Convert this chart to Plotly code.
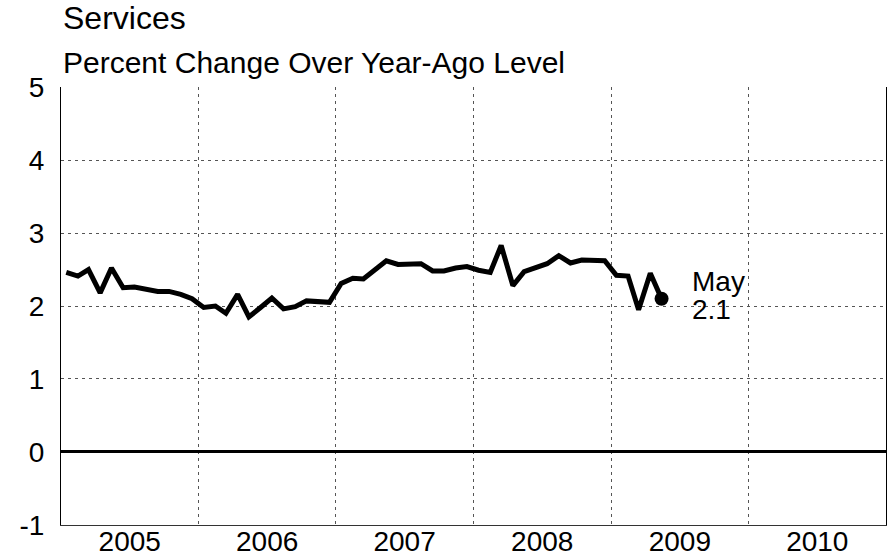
import pandas as pd
import plotly.graph_objects as go

# Services, percent change over year-ago level, monthly Jan 2005 - May 2009
start_month = "2005-01-01"
values = [
    2.46, 2.41, 2.50, 2.18, 2.52, 2.25, 2.26, 2.23, 2.20, 2.20, 2.16, 2.10,   # 2005
    1.98, 2.00, 1.90, 2.16, 1.85, 1.98, 2.11, 1.96, 1.99, 2.07, 2.06, 2.05,   # 2006
    2.31, 2.38, 2.37, 2.50, 2.62, 2.57, 2.58, 2.58, 2.48, 2.48, 2.52, 2.54,   # 2007
    2.49, 2.46, 2.83, 2.28, 2.47, 2.52, 2.58, 2.69, 2.59, 2.63, 2.63, 2.62,   # 2008
    2.42, 2.41, 1.95, 2.45, 2.10,                                             # 2009
]
last_label = "May"
last_value_text = "2.1"
title = "Services"
subtitle = "Percent Change Over Year-Ago Level"
y_ticks = [-1, 0, 1, 2, 3, 4, 5]
y_tick_text = ["-1", "0", "1", "2", "3", "4", "5"]

months = pd.date_range(start_month, periods=len(values), freq="MS") + pd.Timedelta(days=14)

FONT = "Liberation Sans, Arial, Helvetica, sans-serif"
GRID = "#555555"
TICK = 28

fig = go.Figure()
fig.add_trace(go.Scatter(
    x=months, y=values, mode="lines",
    line=dict(color="black", width=5),
    hoverinfo="skip", showlegend=False,
))
fig.add_trace(go.Scatter(
    x=[months[-1]], y=[values[-1]], mode="markers",
    marker=dict(color="black", size=14),
    hoverinfo="skip", showlegend=False,
))

fig.add_annotation(
    x=months[-1], y=values[-1], xref="x", yref="y",
    text=last_label, showarrow=False,
    xanchor="left", yanchor="middle", align="left", xshift=28, yshift=17,
    font=dict(family=FONT, size=TICK, color="black"),
)
fig.add_annotation(
    x=months[-1], y=values[-1], xref="x", yref="y",
    text=last_value_text, showarrow=False,
    xanchor="left", yanchor="middle", align="left", xshift=28, yshift=-11,
    font=dict(family=FONT, size=TICK, color="black"),
)
fig.add_annotation(
    x=0.0, y=1.203, xref="paper", yref="paper", text=title, showarrow=False,
    xanchor="left", yanchor="top", font=dict(family=FONT, size=32, color="black"),
)
fig.add_annotation(
    x=0.0, y=1.099, xref="paper", yref="paper", text=subtitle, showarrow=False,
    xanchor="left", yanchor="top", font=dict(family=FONT, size=30, color="black"),
)

fig.update_layout(
    width=893, height=560,
    margin=dict(l=61, r=7, t=87, b=35, autoexpand=False),
    paper_bgcolor="white", plot_bgcolor="white",
    font=dict(family=FONT, size=TICK, color="black"),
    xaxis=dict(
        type="date", range=["2005-01-01", "2011-01-01"],
        tick0="2005-01-01", dtick="M12", tickformat="%Y",
        ticklabelmode="period", ticks="",
        showgrid=True, gridcolor=GRID, griddash="3px,4px", gridwidth=1,
        showline=True, linecolor="#333333", linewidth=1,
        zeroline=False, automargin=False,
        ticklabelstandoff=-9,
        tickfont=dict(size=TICK),
    ),
    yaxis=dict(
        range=[-1.002, 5.002], tickvals=y_ticks, ticktext=y_tick_text, ticks="",
        showgrid=True, gridcolor=GRID, griddash="3px,4px", gridwidth=1,
        showline=True, mirror=True, linecolor="black", linewidth=1.2,
        zeroline=True, zerolinecolor="black", zerolinewidth=2.5,
        ticklabelstandoff=10, automargin=False,
        tickfont=dict(size=TICK),
    ),
)

fig.write_html(
    "out.html",
    config={"displayModeBar": False},
    post_script="document.body.style.margin='0';document.body.style.overflow='hidden';",
)
